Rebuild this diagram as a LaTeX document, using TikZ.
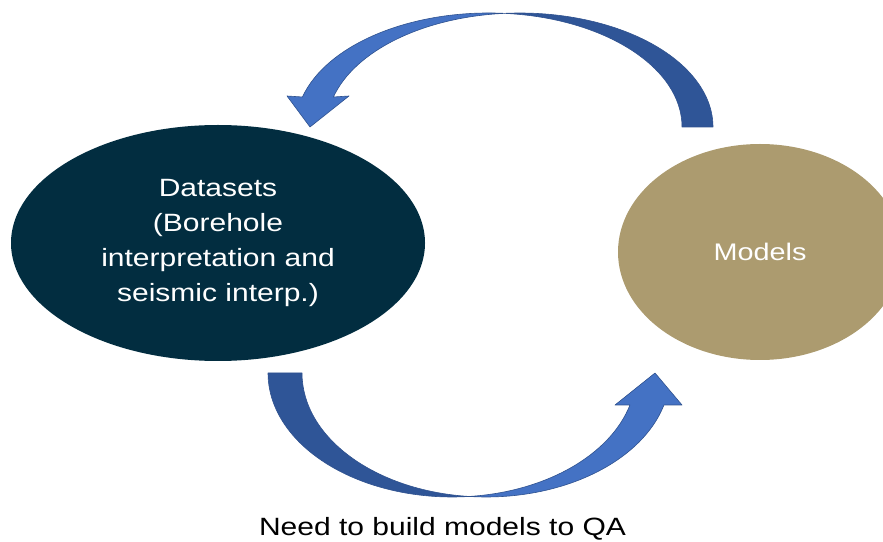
\documentclass[tikz,border=0pt]{standalone}
\usepackage{fontspec}
\setmainfont{Liberation Sans}[FakeStretch=1.2]
\usepackage{xcolor}
\usepackage{tikz}
\usetikzlibrary{shapes.geometric}
\usetikzlibrary{positioning}
\definecolor{datanavy}{HTML}{022D40}
\definecolor{modeltan}{HTML}{AC9B6F}
\definecolor{arrowlight}{HTML}{4472C4}
\definecolor{arrowdark}{HTML}{2F5597}
\definecolor{arrowedge}{HTML}{2F528F}
\tikzset {
  % filled ellipse with white text
  blob/.style = {ellipse, inner sep=0pt, text=white, align=center},
  data/.style = {blob, fill=datanavy, minimum width=414pt, minimum height=236pt,
                 font=\fontsize{25}{35}\selectfont},
  model/.style = {blob, fill=modeltan, minimum width=284pt, minimum height=216pt,
                  font=\fontsize{24}{34}\selectfont},
  % label under the loop
  note/.style = {inner sep=0pt, font=\fontsize{25}{35}\selectfont},
  % the two faces of a curved ribbon arrow
  ribbonback/.style = {fill=arrowdark, draw=arrowedge, line width=0.6pt, line join=round},
  ribbonfront/.style = {fill=arrowlight, draw=arrowedge, line width=0.6pt, line join=round},
}

\begin{document}
\begin{tikzpicture}[x=1pt, y=1pt]
  \useasboundingbox (0,0) rectangle (883,541);

  \node[data] (data) at (218,298) {Datasets\\(Borehole\\interpretation and\\seismic interp.)};
  \node[model] (models) at (760,289) {Models};
  \node[note, anchor=base] (qa) at (442.5,6) {Need to build models to QA};

  % top arrow: models back to datasets
  \draw[ribbonback] (713,414)
    arc[start angle=0, end angle=94.54, x radius=193.2pt, y radius=114pt]
    arc[start angle=85.34, end angle=0, x radius=193.2pt, y radius=114pt] -- cycle;
  \draw[ribbonfront] (333.41,444)
    arc[start angle=164.74, end angle=94.54, x radius=193.2pt, y radius=114pt]
    arc[start angle=85.34, end angle=164.74, x radius=193.2pt, y radius=114pt]
    -- (287,445) -- (310,414) -- (349,445) -- cycle;

  % bottom arrow: datasets on to models
  \draw[ribbonback] (268,168)
    arc[start angle=180, end angle=275.30, x radius=184.1pt, y radius=124pt]
    arc[start angle=264.70, end angle=180, x radius=184.1pt, y radius=124pt] -- cycle;
  \draw[ribbonfront] (629.96,136)
    arc[start angle=345.04, end angle=275.30, x radius=184.1pt, y radius=124pt]
    arc[start angle=264.70, end angle=345.04, x radius=184.1pt, y radius=124pt]
    -- (682,136) -- (655,168) -- (615,136) -- cycle;
\end{tikzpicture}
\end{document}
